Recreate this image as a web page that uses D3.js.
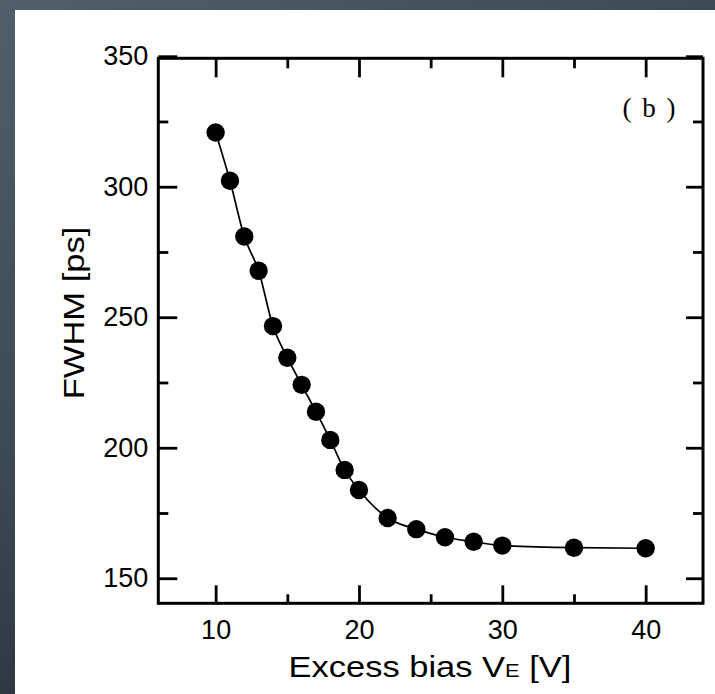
<!DOCTYPE html>
<html>
<head>
<meta charset="utf-8">
<script src="https://cdn.jsdelivr.net/npm/d3@7"></script>
<style>
html,body{margin:0;padding:0;background:#3b4650;}
svg{display:block;}
</style>
</head>
<body>
<svg id="chart" width="715" height="694"></svg>
<script>
// Data
const biasV = [10, 11, 12, 13, 14, 15, 16, 17, 18, 19, 20, 22, 24, 26, 28, 30, 35, 40];
const fwhmPs = [320.8, 302.3, 280.9, 267.8, 246.6, 234.5, 224.1, 213.8, 203.0, 191.5, 183.8, 173.1, 168.8, 165.7, 164.0, 162.5, 161.7, 161.5];
const xMajorTicks = [10, 20, 30, 40];
const xMinorTicks = [15, 25, 35];
const yMajorTicks = [150, 200, 250, 300, 350];
const yMinorTicks = [175, 225, 275, 325];
const panelLabel = "( b )";
const xTitle = "Excess bias V";
const xTitleSub = "E";
const xTitleEnd = " [V]";
const yTitle = "FWHM [ps]";

const svg = d3.select("#chart");
const W = 715, H = 694;

// background gradient
const defs = svg.append("defs");
const g1 = defs.append("linearGradient").attr("id", "bg").attr("x1", "0").attr("y1", "0").attr("x2", "0.6").attr("y2", "1");
g1.append("stop").attr("offset", "0").attr("stop-color", "#4f5f6b");
g1.append("stop").attr("offset", "0.5").attr("stop-color", "#3c4853");
g1.append("stop").attr("offset", "1").attr("stop-color", "#232831");
svg.append("rect").attr("width", W).attr("height", H).attr("fill", "url(#bg)");
svg.append("rect").attr("x", 15).attr("y", 10).attr("width", W - 15).attr("height", H - 10).attr("fill", "#ffffff");

const L = 158.3, R = 703, T = 58.3, B = 603.3;
const x = d3.scaleLinear().domain([6, 44]).range([L, R]);
const y = d3.scaleLinear().domain([140.4, 349.2]).range([B, T]);

const font = "'Liberation Sans', Arial, sans-serif";

function styleAxis(g) {
  g.select(".domain").remove();
  g.selectAll(".tick line").attr("stroke", "#000").attr("stroke-width", 2.8);
  g.selectAll(".tick text").attr("fill", "#000").style("font-family", font).style("font-size", "27px");
}

// bottom
svg.append("g").attr("transform", `translate(0,${B})`)
  .call(d3.axisBottom(x).tickValues(xMajorTicks).tickSizeInner(-18).tickSizeOuter(0).tickPadding(17).tickFormat(d3.format("d")))
  .call(styleAxis);
svg.append("g").attr("transform", `translate(0,${B})`)
  .call(d3.axisBottom(x).tickValues(xMinorTicks).tickSizeInner(-9).tickSizeOuter(0).tickFormat(""))
  .call(styleAxis);
// top
svg.append("g").attr("transform", `translate(0,${T})`)
  .call(d3.axisTop(x).tickValues(xMajorTicks).tickSizeInner(-19).tickSizeOuter(0).tickFormat(""))
  .call(styleAxis);
svg.append("g").attr("transform", `translate(0,${T})`)
  .call(d3.axisTop(x).tickValues(xMinorTicks).tickSizeInner(-10).tickSizeOuter(0).tickFormat(""))
  .call(styleAxis);
// left
svg.append("g").attr("transform", `translate(${L},0)`)
  .call(d3.axisLeft(y).tickValues(yMajorTicks).tickSizeInner(-19).tickSizeOuter(0).tickPadding(10).tickFormat(d3.format("d")))
  .call(styleAxis);
svg.append("g").attr("transform", `translate(${L},0)`)
  .call(d3.axisLeft(y).tickValues(yMinorTicks).tickSizeInner(-10).tickSizeOuter(0).tickFormat(""))
  .call(styleAxis);
// right
svg.append("g").attr("transform", `translate(${R},0)`)
  .call(d3.axisRight(y).tickValues(yMajorTicks).tickSizeInner(-17).tickSizeOuter(0).tickFormat(""))
  .call(styleAxis);
svg.append("g").attr("transform", `translate(${R},0)`)
  .call(d3.axisRight(y).tickValues(yMinorTicks).tickSizeInner(-10).tickSizeOuter(0).tickFormat(""))
  .call(styleAxis);

// frame
svg.append("rect").attr("x", L).attr("y", T).attr("width", R - L).attr("height", B - T)
  .attr("fill", "none").attr("stroke", "#000").attr("stroke-width", 3);

// data
const pts = biasV.map((v, i) => [v, fwhmPs[i]]);
const line = d3.line().x(d => x(d[0])).y(d => y(d[1])).curve(d3.curveMonotoneX);
svg.append("path").datum(pts).attr("d", line).attr("fill", "none").attr("stroke", "#000").attr("stroke-width", 1.7);
svg.append("g").selectAll("circle").data(pts).join("circle")
  .attr("cx", d => x(d[0])).attr("cy", d => y(d[1])).attr("r", 9.2).attr("fill", "#000");

// panel label
svg.append("text").attr("x", 650).attr("y", 117).attr("text-anchor", "middle")
  .style("font-family", "'Liberation Serif', 'DejaVu Serif', serif").style("font-size", "27px")
  .style("letter-spacing", "2px")
  .attr("fill", "#000").text(panelLabel);

// x title (slightly widened like the reference lettering)
const xt = svg.append("text").attr("transform", "translate(430,677) scale(1.15,1)").attr("text-anchor", "middle")
  .style("font-family", font).style("font-size", "30px").attr("fill", "#000");
xt.append("tspan").text(xTitle);
xt.append("tspan").style("font-size", "19px").text(xTitleSub);
xt.append("tspan").text(xTitleEnd);

// y title
svg.append("text").attr("transform", `translate(84,313) rotate(-90) scale(1.15,1)`).attr("text-anchor", "middle")
  .style("font-family", font).style("font-size", "30px").attr("fill", "#000").text(yTitle);
</script>
</body>
</html>
